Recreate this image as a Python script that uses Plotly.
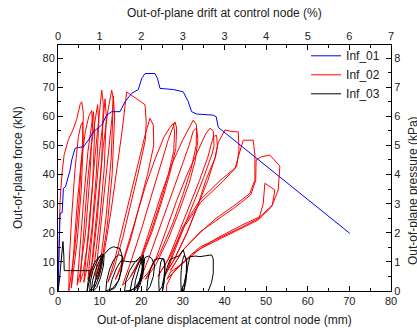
import plotly.graph_objects as go

# ---------------- data ----------------
# Inf_01 : monotonic test (displacement mm, force kN)
inf01_disp = [0, 0.2, 0.4, 0.5, 1.0, 1.3, 1.8, 2.5, 2.9, 3.3, 4.1, 4.9, 6.1, 7.3, 8.5, 10.5,
              11.7, 12.9, 14.9, 16.1, 17.7, 19.3, 20.1, 20.9, 23.3, 23.9, 24.5, 27.7, 30.1,
              31.3, 32.1, 33.3, 37.3, 38.0, 38.5, 70.1]
inf01_force = [0, 10, 20, 26.7, 26.9, 35.3, 35.8, 39.3, 41.5, 45, 49, 49.3, 49.5, 51.8, 54.7, 57,
               60.4, 61.6, 61.6, 65, 67.9, 69.2, 73, 74.7, 74.7, 73, 69.6, 69.2, 68.4,
               65, 61.6, 60.8, 60.4, 59.9, 56.2, 19.8]

# Inf_02 : cyclic test, one list of (disp, force) points per cycle
inf02_cycles = [
    [(0, 0), (0.2, 15), (0.5, 31), (1.0, 41), (1.5, 47), (2.5, 52), (3.5, 55), (4.5, 59), (5.3, 64),
     (5.7, 65), (6.1, 61), (5.8, 48), (5.0, 30), (4.0, 14), (3.0, 5), (2.6, 0)],
    [(2.6, 0), (2.7, 10), (3.3, 26), (4.1, 42), (4.9, 53), (5.5, 57), (5.9, 58), (6.1, 52), (5.6, 35),
     (4.6, 17), (3.6, 5), (3.2, 1)],
    [(3.2, 1), (3.6, 10), (4.5, 28), (5.6, 45), (6.6, 55), (7.4, 60), (8.1, 62), (8.3, 57), (7.6, 38),
     (6.6, 20), (5.3, 6), (4.6, 2)],
    [(4.6, 2), (5.2, 14), (6.2, 32), (7.2, 48), (8.0, 57), (8.5, 61.6), (8.8, 55), (8.3, 36), (7.3, 18),
     (6.0, 6), (5.3, 3)],
    [(5.3, 3), (6.0, 18), (7.0, 36), (8.0, 50), (8.8, 58), (9.5, 64), (9.8, 58), (9.2, 40), (8.2, 22),
     (7.0, 8), (6.2, 3)],
    [(6.2, 3), (7.0, 16), (8.0, 33), (9.0, 48), (9.8, 59), (10.5, 69), (10.9, 64), (10.5, 45), (9.5, 26),
     (8.3, 10), (7.2, 4)],
    [(7.2, 4), (8.0, 17), (9.0, 33), (10.0, 48), (10.8, 58), (11.3, 66), (11.6, 60), (11.1, 42),
     (10.0, 24), (8.8, 10), (7.8, 5)],
    [(7.8, 5), (8.7, 18), (9.8, 34), (10.9, 50), (12.0, 62), (12.9, 69), (13.3, 66), (12.8, 46),
     (11.6, 26), (10.3, 11), (9.0, 5)],
    [(9.0, 5), (10.0, 18), (11.2, 34), (12.3, 50), (13.0, 60), (13.3, 67), (13.6, 60), (13.0, 40),
     (11.8, 22), (10.5, 10), (9.5, 4)],
    [(9.5, 4), (11.2, 14), (12.8, 28), (14.2, 42), (15.4, 55), (16.5, 68.4), (18.5, 66.5), (20.9, 64),
     (21.2, 58), (21.0, 52), (19.5, 42), (17.5, 30), (15.5, 18), (13.5, 8), (12.0, 3)],
    [(12.0, 3), (13.5, 10), (15.5, 22), (17.5, 34), (19.5, 46), (21.0, 54), (22.1, 59.3), (22.5, 58),
     (22.9, 57), (23.0, 50), (21.5, 40), (19.5, 29), (17.5, 18), (15.5, 9), (13.8, 4)],
    [(13.8, 4), (16, 12), (18.5, 24), (21, 36), (23.5, 46), (25.5, 53), (26.8, 56), (27.7, 57.6),
     (28.0, 55), (27.8, 48), (26.5, 40), (24.5, 30), (22, 19), (19.5, 10), (17, 4), (15.5, 2)],
    [(15.5, 2), (17.5, 10), (20, 21), (22.5, 33), (24.8, 44), (26.5, 52), (28.1, 58.1), (28.5, 56),
     (28.3, 49), (27, 41), (25, 31), (22.5, 20), (20, 11), (17.5, 5)],
    [(17.5, 5), (20, 12), (22.5, 23), (25, 34), (27.5, 44), (30, 52), (31.5, 56), (32.5, 58.7),
     (33.3, 57), (33.2, 50), (32, 42), (30, 33), (27.5, 23), (24.5, 13), (21.5, 6), (19.5, 3)],
    [(19.5, 3), (22, 12), (24.5, 22), (27, 32), (29.5, 42), (31.5, 50), (32.5, 55), (33.3, 56),
     (33.6, 52), (33, 45), (31.5, 37), (29, 27), (26.5, 18), (23.5, 9), (21, 4)],
    [(21, 4), (23.5, 11), (26, 21), (28.5, 31), (31, 40), (33.5, 48), (35.5, 54), (36.5, 55.9),
     (37.3, 55), (37.5, 50), (37, 47), (35, 39), (32.5, 30), (30, 21), (27, 12), (24, 5)],
    [(24, 5), (26.5, 11), (29, 20), (31.5, 29), (34, 38), (36, 46), (37.3, 53), (38.1, 53.5),
     (38.3, 50), (37.8, 46), (36, 38), (33.5, 29), (31, 20), (28, 11), (25.5, 5)],
    [(25.5, 5), (28, 11), (31, 20), (33.5, 29), (35.5, 38), (37.8, 46), (38.5, 51), (40.1, 55.3),
     (42.1, 54.7), (43.3, 54.7), (43.5, 48.4), (42.9, 42.7), (39, 38), (34.1, 31.2), (30, 22),
     (27.5, 13), (26.3, 7)],
    [(26.3, 7), (27.8, 13), (30.3, 22), (34.3, 30.5), (39.5, 37.5), (42.5, 42), (43.5, 47),
     (44.5, 51.8), (46.9, 51.8), (47.3, 46.7), (47.3, 38.1), (46.1, 33.5), (42, 29), (38, 25),
     (34.1, 20), (30, 14), (27, 7)],
    [(27, 7), (30.3, 14.5), (34.3, 20.5), (38.3, 24.5), (42.3, 28.5), (46.3, 33), (47.5, 38),
     (47.6, 45), (48.9, 46.1), (50.9, 46.7), (53.3, 42.9), (52.9, 34.7), (51.3, 28.9), (48.1, 24.4),
     (44, 21.5), (40, 18.5), (34.1, 14.5), (30, 9.5), (27, 6.5), (26.2, 4)],
    [(26.2, 4), (29, 8.5), (34, 15), (40, 19), (44.3, 22), (48.3, 25), (49.3, 30), (49.7, 37),
     (50.9, 35.8), (52.1, 34.7), (51.5, 29.5), (48.5, 25.5), (44, 22.5), (38, 18), (32, 12.5),
     (27.5, 6), (26.1, 2), (26.1, 0)],
]

# Inf_03 : cyclic test on the damaged panel, one list per cycle
inf03_cycles = [
    [(0, 0), (0.3, 3), (0.6, 8), (0.9, 13), (1.2, 17), (1.4, 12), (1.5, 7), (3, 7), (5, 7), (7.7, 7),
     (7.6, 4), (7.2, 1.5), (7.0, 0)],
    [(7.0, 0), (7.2, 3), (7.8, 6.5), (8.7, 9.5), (9.8, 11.8), (10.4, 12), (10.3, 9), (9.6, 5.5),
     (8.6, 2), (7.6, 0)],
    [(7.6, 0), (7.8, 3.5), (8.4, 7), (9.3, 10), (10.3, 12.4), (10.8, 12.5), (10.6, 9), (9.9, 5),
     (8.9, 1.5), (8.0, 0)],
    [(8.0, 0), (8.3, 3.5), (9.0, 7), (9.9, 10.2), (10.8, 12.6), (11.1, 12.3), (10.9, 8.5), (10.2, 4.5),
     (9.3, 1.2), (8.5, 0)],
    [(8.5, 0), (9.0, 4), (9.9, 8.5), (11, 12.4), (12.3, 14.5), (13.3, 15.2), (14.9, 14.6), (15.5, 11.5),
     (15.3, 7.5), (14.5, 3.5), (13.2, 1), (11.5, 0)],
    [(11.5, 0), (11.7, 3.5), (12.4, 7.5), (13.4, 10.8), (14.6, 12.5), (15.4, 12), (15.3, 8), (14.7, 4),
     (13.6, 1), (12.3, 0)],
    [(12.3, 0), (13, 4), (14.1, 8), (15.2, 10.5), (16.2, 10.2), (17.5, 10), (18.9, 10.2), (19.7, 11.8),
     (20.3, 8.5), (20.0, 4.5), (19.0, 1.5), (17.5, 0.2), (16.0, 0)],
    [(16.0, 0), (16.3, 3.5), (17.2, 7), (18.4, 9.8), (19.6, 11.5), (20.3, 11), (20.2, 7), (19.6, 3.5),
     (18.5, 1), (17.3, 0)],
    [(17.3, 0), (17.8, 3.5), (18.6, 7), (19.5, 10), (20.3, 11.5), (20.6, 10), (20.3, 6), (19.6, 2.5),
     (18.7, 0.5), (18.3, 0)],
    [(18.3, 0), (18.6, 3.5), (19.2, 7), (19.9, 10), (20.5, 12.4), (20.7, 10), (20.4, 5.5), (19.7, 2),
     (19.0, 0)],
    [(19.0, 0), (19.6, 4), (20.3, 8), (20.9, 11.5), (21.7, 12), (22.5, 11.2), (23.2, 9), (22.9, 5),
     (22.1, 1.5), (21.3, 0)],
    [(21.3, 0), (21.6, 4), (22.3, 8), (23.2, 10.8), (24.5, 11.2), (25.3, 11), (25.7, 9), (25.5, 5),
     (25.0, 1.5), (24.3, 0)],
    [(24.3, 0), (24.2, 3.5), (24.4, 7), (24.7, 10), (25.2, 11.3), (25.6, 10.5), (25.7, 7), (25.5, 3),
     (25.1, 0)],
    [(25.1, 0), (25.5, 4), (26.2, 8), (26.9, 10.8), (28, 11.5), (29, 12), (30.1, 14.1), (30.9, 10),
     (30.8, 6), (30.3, 2.5), (29.6, 0)],
    [(29.6, 0), (29.5, 3.5), (29.6, 7), (29.9, 10.5), (30.3, 12.2), (30.9, 11), (31.0, 7), (30.7, 3),
     (30.2, 0)],
    [(30.2, 0), (30.6, 4), (31.1, 8), (31.7, 11.8), (33, 12), (34.1, 11.8), (35.5, 12.2), (36.9, 12.4),
     (37.3, 11), (37.3, 6.1), (36.9, 3), (36.1, 0)],
]

x_tickvals = [0, 10, 20, 30, 40, 50, 60, 70, 80]
drift_ticktext = ['0', '1', '2', '3', '3', '4', '5', '6', '7']


def flatten(cycles):
    xs, ys = [], []
    for cyc in cycles:
        for i, (a, b) in enumerate(cyc):
            if xs and i == 0 and (a, b) == (xs[-1], ys[-1]):
                continue
            xs.append(a)
            ys.append(b)
    return xs, ys


r_x, r_y = flatten(inf02_cycles)
k_x, k_y = flatten(inf03_cycles)

FONT = 'Liberation Sans, Arial, sans-serif'

fig = go.Figure()
fig.add_trace(go.Scatter(x=r_x, y=r_y, mode='lines', name='Inf_02', legendrank=2,
                         line=dict(color='#FF0000', width=1)))
fig.add_trace(go.Scatter(x=inf01_disp, y=inf01_force, mode='lines', name='Inf_01', legendrank=1,
                         line=dict(color='#0000FF', width=1)))
fig.add_trace(go.Scatter(x=k_x, y=k_y, mode='lines', name='Inf_03', legendrank=3,
                         line=dict(color='#000000', width=1)))
# invisible trace to carry the secondary (top / right) axes
fig.add_trace(go.Scatter(x=[None], y=[None], xaxis='x2', yaxis='y2', showlegend=False,
                         hoverinfo='skip'))

axis_common = dict(showline=True, linecolor='black', linewidth=1, mirror=False,
                   showgrid=False, zeroline=False, ticks='inside', ticklen=5,
                   tickwidth=1, tickcolor='black',
                   tickfont=dict(family=FONT, size=11, color='#222'))

fig.update_layout(
    width=417, height=331,
    margin=dict(l=58, r=26, t=45, b=40),
    paper_bgcolor='white', plot_bgcolor='white',
    font=dict(family=FONT, size=11, color='#222'),
    xaxis=dict(range=[0, 80], tickmode='array', tickvals=x_tickvals,
               minor=dict(ticks='inside', ticklen=3, tickmode='linear', tick0=0, dtick=5,
                          tickcolor='black'),
               **axis_common),
    xaxis2=dict(range=[0, 80], overlaying='x', side='top', anchor='y',
                tickmode='array', tickvals=x_tickvals, ticktext=drift_ticktext,
                minor=dict(ticks='inside', ticklen=3, tickmode='linear', tick0=0, dtick=5,
                           tickcolor='black'),
                **axis_common),
    yaxis=dict(range=[0, 84.5], tickmode='linear', tick0=0, dtick=10,
               minor=dict(ticks='inside', ticklen=3, tickmode='linear', tick0=0, dtick=5,
                          tickcolor='black'),
               **axis_common),
    yaxis2=dict(range=[0, 8.45], overlaying='y', side='right', anchor='x',
                tickmode='linear', tick0=0, dtick=1,
                minor=dict(ticks='inside', ticklen=3, tickmode='linear', tick0=0, dtick=0.5,
                           tickcolor='black'),
                **axis_common),
    showlegend=True,
    legend=dict(x=0.745, y=1.015, xanchor='left', yanchor='top',
                bgcolor='rgba(0,0,0,0)', borderwidth=0, tracegroupgap=0,
                font=dict(family=FONT, size=12, color='#222')),
    annotations=[
        dict(text='Out-of-plane displacement at control node (mm)', xref='paper', yref='paper',
             x=0.5, y=-0.118, xanchor='center', yanchor='middle', showarrow=False,
             font=dict(family=FONT, size=12, color='#222')),
        dict(text='Out-of-plane drift at control node (%)', xref='paper', yref='paper',
             x=0.5, y=1.13, xanchor='center', yanchor='middle', showarrow=False,
             font=dict(family=FONT, size=12, color='#222')),
        dict(text='Out-of-plane force (kN)', xref='paper', yref='paper',
             x=-0.12, y=0.5, xanchor='center', yanchor='middle', textangle=-90, showarrow=False,
             font=dict(family=FONT, size=12, color='#222')),
        dict(text='Out-of-plane pressure (kPa)', xref='paper', yref='paper',
             x=1.066, y=0.41, xanchor='center', yanchor='middle', textangle=-90, showarrow=False,
             font=dict(family=FONT, size=12, color='#222')),
    ],
)

fig.write_html('out.html', config={'displayModeBar': False},
               post_script="document.body.style.margin='0';document.body.style.overflow='hidden';")
